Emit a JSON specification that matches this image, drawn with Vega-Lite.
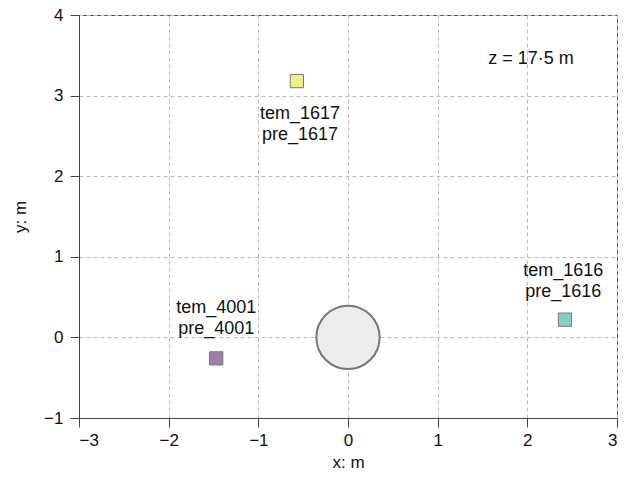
{
  "$schema": "https://vega.github.io/schema/vega-lite/v6.json",
  "width": 538,
  "height": 403,
  "autosize": {"type": "none"},
  "padding": {"left": 79, "top": 15, "right": 12, "bottom": 63},
  "background": "white",
  "config": {
    "font": "Liberation Sans",
    "view": {"stroke": "#444", "strokeWidth": 1},
    "axis": {
      "domainColor": "#444",
      "tickColor": "#444",
      "tickSize": 9,
      "labelFontSize": 17,
      "labelColor": "#111",
      "titleFontSize": 17,
      "titleFontWeight": "normal",
      "titleColor": "#111",
      "gridColor": "#bbbbbb",
      "gridDash": [4, 3],
      "gridWidth": 1,
      "labelOverlap": false
    }
  },
  "datasets": {
    "sensors": [
      {"name": "tem_1617", "x": -0.57, "y": 3.18},
      {"name": "tem_1616", "x": 2.42, "y": 0.22},
      {"name": "tem_4001", "x": -1.47, "y": -0.26}
    ],
    "labels": [
      {"label": "tem_1617\npre_1617", "x": -0.535, "y": 2.77},
      {"label": "tem_1616\npre_1616", "x": 2.4, "y": 0.83},
      {"label": "tem_4001\npre_4001", "x": -1.47, "y": 0.37}
    ],
    "pile": [{"x": 0, "y": 0}],
    "note": [{"text": "z = 17·5 m", "x": 2.04, "y": 3.45}]
  },
  "encoding": {
    "x": {
      "field": "x", "type": "quantitative",
      "scale": {"domain": [-3, 3], "nice": false, "zero": false},
      "axis": {"title": "x: m", "values": [-3, -2, -1, 0, 1, 2, 3], "titlePadding": 6, "labelPadding": 5}
    },
    "y": {
      "field": "y", "type": "quantitative",
      "scale": {"domain": [-1, 4], "nice": false, "zero": false},
      "axis": {"title": "y: m", "values": [-1, 0, 1, 2, 3, 4], "titlePadding": 14, "labelPadding": 7}
    }
  },
  "layer": [
    {
      "data": {"name": "pile"},
      "mark": {"type": "point", "shape": "circle", "filled": true, "fill": "#ececec", "stroke": "#777777", "strokeWidth": 2, "opacity": 1, "size": 4000}
    },
    {
      "data": {"name": "sensors"},
      "mark": {"type": "point", "shape": "square", "filled": true, "stroke": "#777777", "strokeWidth": 1, "opacity": 1, "size": 175},
      "encoding": {
        "fill": {
          "field": "name", "type": "nominal", "legend": null,
          "scale": {"domain": ["tem_1617", "tem_1616", "tem_4001"], "range": ["#eef083", "#88ccc6", "#a07fae"]}
        }
      }
    },
    {
      "data": {"name": "labels"},
      "mark": {"type": "text", "fontSize": 18, "lineBreak": "\n", "lineHeight": 21, "align": "center", "baseline": "middle", "color": "#111"},
      "encoding": {"text": {"field": "label"}}
    },
    {
      "data": {"name": "note"},
      "mark": {"type": "text", "fontSize": 18, "align": "center", "baseline": "middle", "color": "#111"},
      "encoding": {"text": {"field": "text"}}
    }
  ]
}
